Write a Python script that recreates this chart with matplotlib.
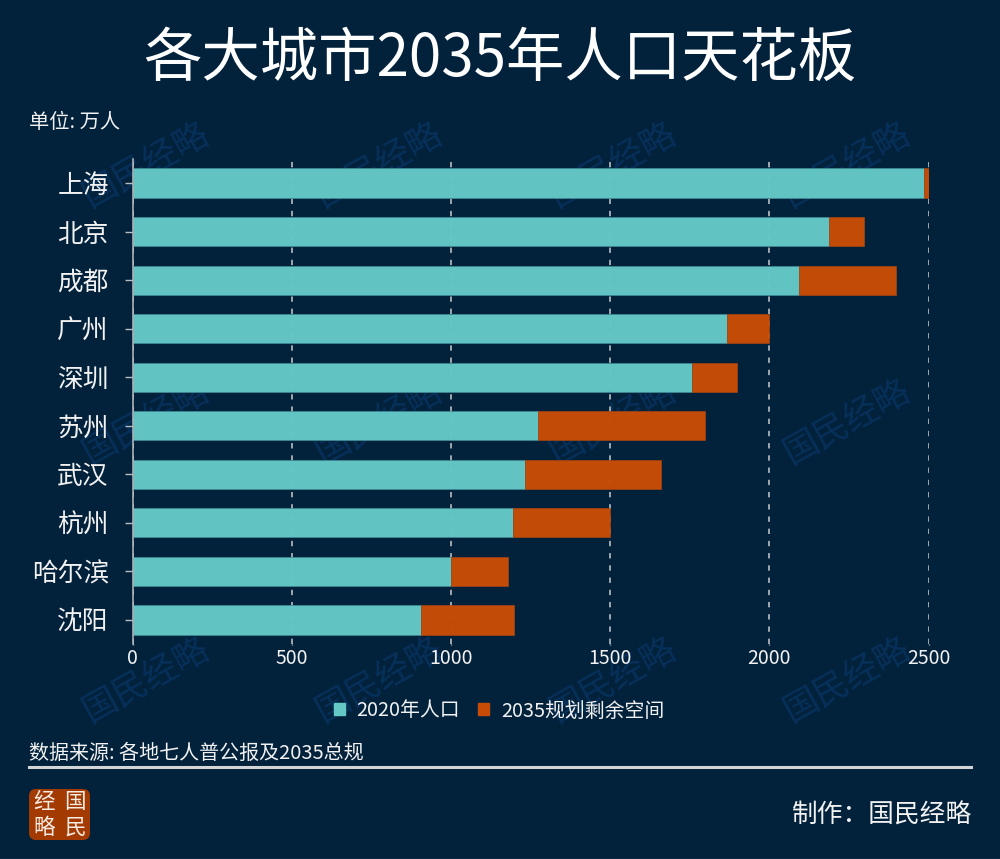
import matplotlib
matplotlib.use("Agg")
import matplotlib.pyplot as plt
from matplotlib.patches import FancyBboxPatch, Rectangle
from matplotlib.lines import Line2D

plt.rcParams['font.family'] = ['Noto Sans CJK SC', 'DejaVu Sans']

cities = ['上海', '北京', '成都', '广州', '深圳', '苏州', '武汉', '杭州', '哈尔滨', '沈阳']
pop_2020 = [2487, 2189, 2094, 1868, 1756, 1275, 1232, 1194, 1001, 907]
remaining = [13, 109, 304, 132, 143, 523, 427, 305, 178, 291]
xticks = [0, 500, 1000, 1500, 2000, 2500]
legend_labels = ['2020年人口', '2035规划剩余空间']

BG = '#02223c'
TEAL = '#64c8c6'
ORANGE = '#c74c06'
W, H = 1000, 859

fig = plt.figure(figsize=(W / 100, H / 100), dpi=100, facecolor=BG)

def px(x, y):
    return x / W, 1 - y / H

# watermark layer
for wy in [165, 422, 680]:
    for wx in [145, 378, 612, 846]:
        fx, fy = px(wx, wy)
        fig.text(fx, fy, '国民经略', color='#07305a', fontsize=25, rotation=29,
                 ha='center', va='center', rotation_mode='anchor', zorder=0)

left, right = 132.5, 928.5
top, bottom = 158.75, 644.25
ax = fig.add_axes([left / W, 1 - bottom / H, (right - left) / W, (bottom - top) / H], zorder=2)
ax.patch.set_alpha(0)
ax.set_xlim(0, 2500)
ypos = list(range(len(cities)))
ax.set_ylim(len(cities) - 0.5, -0.5)

ax.set_axisbelow(True)
ax.xaxis.grid(True, color='#c8ccd0', linestyle=(0, (3.5, 4.5)), linewidth=1.1)
ax.yaxis.grid(False)
ax.barh(ypos, pop_2020, height=0.6, color=TEAL, alpha=0.98, edgecolor='#3d8c96', linewidth=0.5)
ax.barh(ypos, remaining, left=pop_2020, height=0.6, color=ORANGE, alpha=0.98, edgecolor='#a8440e', linewidth=0.5)

for s in ['top', 'right', 'bottom']:
    ax.spines[s].set_visible(False)
ax.spines['left'].set_color('#b8bcc0')
ax.spines['left'].set_linewidth(1.1)
ax.set_xticks(xticks)
ax.set_yticks(ypos)
ax.set_yticklabels(cities, fontsize=18.5, color='#f2f2f2')
ax.tick_params(axis='y', length=6, width=1, color='#b8bcc0', pad=11)
ax.tick_params(axis='x', length=1, width=1, color='#b8bcc0', labelcolor='#f2f2f2', labelsize=14, pad=1.5)

# title and notes
fx, fy = px(500, 59)
fig.text(fx, fy, '各大城市2035年人口天花板', color='white', fontsize=42, ha='center', va='center', zorder=3)
fx, fy = px(29, 122)
fig.text(fx, fy, '单位: 万人', color='#f2f2f2', fontsize=14.6, ha='left', va='center', zorder=3)
fx, fy = px(29, 753)
fig.text(fx, fy, '数据来源: 各地七人普公报及2035总规', color='#f2f2f2', fontsize=14.4, ha='left', va='center', zorder=3)
fx, fy = px(972, 816)
fig.text(fx, fy, '制作：国民经略', color='#f2f2f2', fontsize=18.5, ha='right', va='center', zorder=3)

# legend
fx, fy = px(499, 711)
handles = [Rectangle((0, 0), 1, 1, color=TEAL), Rectangle((0, 0), 1, 1, color=ORANGE)]
leg = fig.legend(handles, legend_labels, loc='center', bbox_to_anchor=(fx, fy), ncol=2, frameon=False,
                 fontsize=14.3, labelcolor='#f2f2f2', handlelength=0.55, handleheight=0.55,
                 handletextpad=0.6, columnspacing=0.9)
leg.set_zorder(3)

# rule and bottom edge
fig.add_artist(Line2D([29 / W, 971 / W], [1 - 767 / H] * 2, color='#d2d4d6', linewidth=2.2))
fig.add_artist(Line2D([0, 1], [1 - 858.5 / H] * 2, color='#3d5468', linewidth=1))

# logo
lx0, ly0 = 29, 789
lw, lh = 61, 51
fig.add_artist(FancyBboxPatch((lx0, H - ly0 - lh), lw, lh,
                              boxstyle='round,pad=0,rounding_size=7',
                              transform=None, facecolor='#a33a02', edgecolor='none'))
for ch, cx, cy in [('经', 44, 802), ('国', 75, 802), ('略', 44, 828), ('民', 75, 828)]:
    fx, fy = px(cx, cy)
    fig.text(fx, fy, ch, color='#f5ece4', fontsize=15.5, ha='center', va='center', zorder=5)

fig.savefig('out.png', dpi=100, facecolor=BG)
